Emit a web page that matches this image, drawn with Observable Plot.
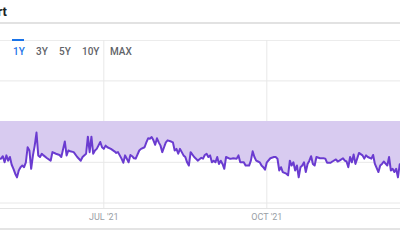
<!DOCTYPE html>
<html>
<head>
<meta charset="utf-8">
<script src="https://cdn.jsdelivr.net/npm/d3@7"></script>
<script src="https://cdn.jsdelivr.net/npm/@observablehq/plot@0.6"></script>
<style>
  html, body { margin: 0; padding: 0; background: #fff; }
  body { width: 400px; height: 240px; position: relative; overflow: hidden; font-family: Roboto, "Noto Sans", sans-serif; }
  .abs { position: absolute; }
  .title { right: 393px; top: 4px; font-weight: 700; font-size: 13px; color: #202124; white-space: nowrap; line-height: 16px; }
  .tab { top: 46px; font-size: 10px; font-weight: 500; color: #5f6368; line-height: 12px; white-space: nowrap; }
  .tab.active { color: #1a73e8; }
  #chart { left: 0; top: 0; }
</style>
</head>
<body>
<div class="abs title">Chart</div>
<div class="abs" style="left:0;top:22px;width:400px;height:2px;background:#e2e2e2"></div>
<div class="abs" style="left:0;top:40px;width:400px;height:1px;background:#ececec"></div>
<div id="chart" class="abs"></div>
<div class="abs" style="left:12px;top:39px;width:12px;height:2px;background:#1a73e8"></div>
<div id="tabs"></div>
<div class="abs" style="left:0;top:228px;width:400px;height:2px;background:#e4e4e4"></div>
<script>
// ---- data ----
const rangeTabs = ["1Y", "3Y", "5Y", "10Y", "MAX"];
const activeTab = "1Y";
const startDate = "2021-05-03";
const dayOffsets = [0,1,2,3,4,5,6,7,8,9,10,11,12,13,14,15,16,17,18,19,20,21,22,23,24,25,27,29,30,32,34,35,37,38,39,40,42,44,46,47,49,50,51,52,53,54,55,57,58,59,60,61,63,65,66,67,68,69,70,71,73,74,75,76,77,79,80,82,83,84,85,86,87,88,89,90,91,92,93,94,95,97,98,99,100,101,102,103,104,105,106,107,108,110,111,112,114,115,116,117,118,119,120,121,122,123,124,125,126,127,128,130,131,132,134,135,136,138,139,141,142,143,144,145,146,147,148,149,150,151,153,155,156,157,158,159,160,162,163,164,165,166,167,168,169,170,171,172,173,174,175,176,177,178,179,181,183,184,185,187,188,190,191,192,194,195,196,197,198,199,200,201,202,203,205,206,207,208,210,211,212,214,215,216,217,219,220,221,222,223,224,225,226,227];
const values = [30.9,30.9,31.5,30.0,31.7,30.4,31.3,29.4,28.4,27.2,26.3,28.0,28.8,29.2,28.8,30.0,33.7,32.9,28.4,31.7,34.1,37.3,31.7,31.3,32.1,31.7,31.0,30.4,32.5,32.1,31.8,31.3,35.1,31.7,32.9,32.7,32.5,31.3,30.4,31.3,32.1,36.3,32.5,36.3,32.1,32.9,33.3,35.0,33.7,33.3,34.1,33.7,33.3,32.7,32.3,32.5,31.7,30.9,29.9,31.7,30.0,31.8,31.5,31.0,30.9,32.9,33.3,33.7,34.9,35.9,35.8,36.2,35.4,34.3,35.9,34.9,34.1,32.5,33.7,34.9,35.4,35.1,34.9,32.9,33.3,32.1,33.3,32.5,31.7,31.3,30.0,29.2,32.5,31.3,30.9,30.4,31.1,30.9,31.8,32.1,31.3,31.7,30.0,30.4,30.0,31.3,29.6,30.4,29.6,28.4,31.3,30.9,30.9,31.0,30.9,31.7,30.0,30.0,29.2,29.2,30.4,32.7,31.3,30.4,30.2,30.0,29.2,28.8,28.2,30.0,31.0,31.3,31.3,30.9,28.0,28.8,27.6,27.2,26.8,30.4,29.2,30.0,28.0,29.2,26.3,28.8,29.2,30.0,27.6,29.6,30.4,31.5,29.6,29.2,31.3,31.0,31.0,30.9,29.9,29.9,30.2,30.7,30.2,30.4,31.0,30.4,30.2,28.8,31.3,30.0,31.9,29.6,30.9,32.3,31.7,30.9,31.7,31.3,30.9,31.8,29.6,27.6,29.2,29.6,30.2,29.2,31.3,28.0,28.4,27.6,28.4,26.3,29.5,29.8];
const xTickDates = ["2021-07-01", "2021-10-01"];
const yGridValues = [20, 30, 40, 50];
const bandTop = 40;
const xDomainStart = "2021-05-03T16:34:00Z";
const xDomainEnd = "2021-12-15T10:48:00Z";
const yDomain = [18.65, 59.93];

// ---- build ----
const start = new Date(startDate + "T00:00:00Z");
const data = dayOffsets.map((d, i) => ({ date: d3.utcDay.offset(start, d), value: values[i] }));
const xTicks = xTickDates.map(s => new Date(s + "T00:00:00Z"));
const fmt = d3.utcFormat("%b '%y");

const tabs = document.getElementById("tabs");
const tabLeft = [13, 36, 59, 82, 110];
rangeTabs.forEach((t, i) => {
  const el = document.createElement("div");
  el.className = "abs tab" + (t === activeTab ? " active" : "");
  el.style.left = tabLeft[i] + "px";
  el.textContent = t;
  tabs.appendChild(el);
});

const chart = Plot.plot({
  width: 400,
  height: 240,
  marginTop: 40,
  marginBottom: 32,
  marginLeft: 0,
  marginRight: 0,
  style: { background: "transparent", fontFamily: "Roboto, sans-serif", fontSize: "9px", color: "#9aa0a6", overflow: "visible" },
  x: { type: "utc", domain: [new Date(xDomainStart), new Date(xDomainEnd)], ticks: xTicks, tickFormat: d => fmt(d).toUpperCase(), tickSize: 0, tickPadding: 5, label: null, line: false },
  y: { domain: yDomain, axis: null },
  marks: [
    Plot.ruleY(yGridValues, { stroke: "#e8e8e8", strokeWidth: 1 }),
    Plot.ruleX(xTicks, { stroke: "#e8e8e8", strokeWidth: 1 }),
    Plot.ruleY([yDomain[0]], { stroke: "#e4e4e4", strokeWidth: 1 }),
    Plot.areaY(data, { x: "date", y1: "value", y2: () => bandTop, fill: "#d8cbf0" }),
    Plot.lineY(data, { x: "date", y: "value", stroke: "#6a3bd0", strokeWidth: 2, strokeLinejoin: "round" })
  ]
});
document.getElementById("chart").appendChild(chart);
</script>
</body>
</html>
